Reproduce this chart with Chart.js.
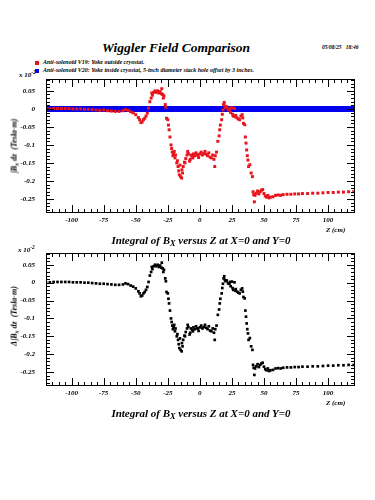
<!DOCTYPE html>
<html>
<head>
<meta charset="utf-8">
<script src="https://cdn.jsdelivr.net/npm/chart.js@4.4.1/dist/chart.umd.min.js"></script>
<style>
  body { margin: 0; background: #fff; }
  #page { position: relative; width: 375px; height: 500px; background: #fff; overflow: hidden;
          font-family: "Liberation Serif", "DejaVu Serif", serif; font-weight: bold; font-style: italic; color: #000; }
  .t { position: absolute; white-space: nowrap; line-height: 1; }
  canvas { position: absolute; left: 0; }
  .mk { position: absolute; width: 4px; height: 4px; }
  sub { font-size: 0.75em; vertical-align: -0.3em; }
  sup { font-size: 0.75em; vertical-align: 0.5em; }
  .ytitle { position: absolute; font-size: 8px; white-space: nowrap; line-height: 1;
            transform: translate(-50%, -50%) rotate(-90deg); }
</style>
</head>
<body>
<div id="page">
  <div class="t" style="left:0;width:352px;text-align:center;top:41px;font-size:13.5px;">Wiggler Field Comparison</div>
  <div class="t" style="left:322px;top:45px;font-size:5.5px;">05/08/25&nbsp;&nbsp;&nbsp;18:46</div>

  <div class="mk" style="left:35px;top:61px;background:#e8141c;"></div>
  <div class="t" style="left:43px;top:59px;font-size:6px;">Anti-solenoid V19: Yoke outside cryostat.</div>
  <div class="mk" style="left:35px;top:69px;background:#0000ee;"></div>
  <div class="t" style="left:43px;top:67px;font-size:6px;">Anti-solenoid V20: Yoke inside cryostat, 5-inch diameter stack hole offset by 3 inches.</div>

  <div class="t" style="left:19px;top:70px;font-size:7px;">x 10<sup>-2</sup></div>
  <canvas id="top" width="375" height="180" style="top:60px;"></canvas>
  <div class="ytitle" style="left:15px;top:146px;">&#8747;B<sub>x</sub> dz&nbsp;&nbsp;(Tesla-m)</div>
  <div class="t" style="left:326px;top:227px;font-size:7px;">Z (cm)</div>
  <div class="t" style="left:0;width:402px;text-align:center;top:235px;font-size:11px;">Integral of B<sub>X</sub> versus Z at X=0 and Y=0</div>

  <div class="t" style="left:18px;top:245px;font-size:7px;">x 10<sup>-2</sup></div>
  <canvas id="bottom" width="375" height="180" style="top:233px;"></canvas>
  <div class="ytitle" style="left:15px;top:316px;">&#916;&#8747;B<sub>x</sub> dz&nbsp;&nbsp;(Tesla-m)</div>
  <div class="t" style="left:326px;top:400px;font-size:7px;">Z (cm)</div>
  <div class="t" style="left:0;width:402px;text-align:center;top:408px;font-size:11px;">Integral of B<sub>X</sub> versus Z at X=0 and Y=0</div>
</div>

<script>
// z positions (cm) of the measured points
const zCm = [-120,-117,-114,-111,-108,-105,-102,-99,-96,-93,-90,-87,-84,-81,-78,-75,-72,-69,-66,-63,
  -60,-58,-56,-54,-52,-50,-48,-47,-46,-45,-44,-43,-42,-41,-40,-39,-38,-37.5,-37,-36,
  -35,-34,-33,-32,-31,-30,-29.7,-29,-28.5,-28,-27,-26.5,-26,-25,-24.5,-24,-23.3,-22.5,-22,-21.5,
  -21,-20.5,-20,-19.4,-19,-18,-17.5,-17,-16.5,-16,-15.5,-15,-14.2,-14,-13.5,-13,-12,-11.6,-11,-10,
  -9.5,-9,-8,-7.5,-7,-6,-5.4,-5,-4,-3,-2,-1.5,-1,0,1,2,3,4,5,6,
  7,8,9,10,11,11.6,12,13,14,15,15.5,16,17,17.5,18,18.5,19,19.5,20,21,
  22,23,23.5,24,25,25.5,26,27,27.5,28,29,30,31,32,33,33.5,34,35,35.5,36,
  36.5,37,37.5,38,39,40,41,41.5,42,42.5,43,44,45,46,47,48,49,50,51,52,
  53,54,55,57,59,61,63,65,68,71,74,77,80,84,88,92,96,100,104,108,
  112,116,120];

// V19 integral (x 10^-2 Tesla-m)
const bxV19 = [0.000,0.000,0.001,0.001,0.001,0.001,0.001,0.000,0.000,0.000,-0.001,-0.001,-0.002,-0.003,-0.004,-0.003,-0.005,-0.006,-0.007,-0.007,
  -0.005,-0.002,-0.004,-0.008,-0.011,-0.016,-0.024,-0.030,-0.038,-0.036,-0.030,-0.026,-0.020,-0.012,0.002,0.020,0.030,0.044,0.038,0.046,
  0.050,0.046,0.050,0.044,0.048,0.042,0.056,0.040,0.030,0.036,0.012,0.004,-0.026,-0.030,-0.045,-0.058,-0.078,-0.100,-0.110,-0.120,
  -0.130,-0.124,-0.118,-0.136,-0.128,-0.150,-0.144,-0.160,-0.172,-0.183,-0.156,-0.188,-0.192,-0.169,-0.178,-0.160,-0.148,-0.150,-0.138,-0.128,
  -0.118,-0.124,-0.145,-0.140,-0.128,-0.132,-0.136,-0.125,-0.130,-0.122,-0.128,-0.128,-0.135,-0.125,-0.120,-0.128,-0.124,-0.118,-0.126,-0.130,
  -0.122,-0.134,-0.136,-0.128,-0.140,-0.160,-0.130,-0.120,-0.090,-0.075,-0.058,-0.045,-0.030,-0.015,-0.003,0.012,0.018,0.008,0.004,0.006,
  -0.002,-0.003,0.002,-0.010,0.003,-0.015,-0.020,0.001,-0.022,-0.018,-0.025,-0.028,-0.030,-0.020,-0.016,-0.025,-0.040,-0.044,-0.078,-0.095,
  -0.114,-0.130,-0.142,-0.160,-0.155,-0.178,-0.188,-0.230,-0.238,-0.258,-0.240,-0.234,-0.228,-0.236,-0.230,-0.226,-0.224,-0.235,-0.242,-0.245,
  -0.240,-0.247,-0.245,-0.244,-0.240,-0.239,-0.240,-0.238,-0.237,-0.237,-0.236,-0.236,-0.235,-0.235,-0.234,-0.234,-0.233,-0.232,-0.232,-0.231,
  -0.231,-0.230,-0.230];

// V20 integral: flat at zero over the whole range
const zV20 = [-120, -90, -60, -30, 0, 30, 60, 90, 121];
const bxV20 = [0, 0, 0, 0, 0, 0, 0, 0, 0];

// lower panel: difference V19 - V20
const dBx = [0.001,0.001,0.002,0.002,0.002,0.002,0.002,0.001,0.001,0.001,0.000,0.000,-0.001,-0.002,-0.003,-0.003,-0.004,-0.005,-0.006,-0.006,
  -0.005,-0.002,-0.004,-0.008,-0.011,-0.016,-0.024,-0.030,-0.038,-0.036,-0.030,-0.026,-0.020,-0.012,0.002,0.020,0.030,0.044,0.038,0.046,
  0.050,0.046,0.050,0.044,0.048,0.042,0.056,0.040,0.030,0.036,0.012,0.004,-0.026,-0.030,-0.045,-0.058,-0.078,-0.100,-0.110,-0.120,
  -0.130,-0.124,-0.118,-0.136,-0.128,-0.150,-0.144,-0.160,-0.172,-0.183,-0.156,-0.188,-0.192,-0.169,-0.178,-0.160,-0.148,-0.150,-0.138,-0.128,
  -0.118,-0.124,-0.145,-0.140,-0.128,-0.132,-0.136,-0.125,-0.130,-0.122,-0.128,-0.128,-0.135,-0.125,-0.120,-0.128,-0.124,-0.118,-0.126,-0.130,
  -0.122,-0.134,-0.136,-0.128,-0.140,-0.160,-0.130,-0.120,-0.090,-0.075,-0.058,-0.045,-0.030,-0.015,-0.003,0.012,0.018,0.008,0.004,0.006,
  -0.002,-0.003,0.002,-0.010,0.003,-0.015,-0.020,0.001,-0.022,-0.018,-0.025,-0.028,-0.030,-0.020,-0.016,-0.025,-0.040,-0.044,-0.078,-0.095,
  -0.114,-0.130,-0.142,-0.160,-0.155,-0.178,-0.188,-0.230,-0.238,-0.258,-0.240,-0.234,-0.228,-0.236,-0.230,-0.226,-0.224,-0.235,-0.242,-0.245,
  -0.240,-0.247,-0.245,-0.244,-0.240,-0.239,-0.240,-0.238,-0.237,-0.237,-0.236,-0.236,-0.235,-0.235,-0.234,-0.234,-0.233,-0.232,-0.232,-0.231,
  -0.231,-0.230,-0.230];

const xTickValues = [-100, -75, -50, -25, 0, 25, 50, 75, 100];
const yTickValues = [0.05, 0, -0.05, -0.1, -0.15, -0.2, -0.25];

const tickFont = { family: "'Liberation Serif', serif", size: 7, weight: "bold", style: "italic" };

const pts = (xs, ys) => xs.map((x, i) => ({ x: x, y: ys[i] }));

// ROOT-style frame with inward ticks on all four sides
const frameTicks = {
  id: "frameTicks",
  afterDraw(chart) {
    const { ctx, chartArea: a, scales: { x, y } } = chart;
    ctx.save();
    ctx.strokeStyle = "#000";
    ctx.lineWidth = 1;
    ctx.strokeRect(a.left + 0.5, a.top + 0.5, a.right - a.left - 1, a.bottom - a.top - 1);
    ctx.beginPath();
    for (let i = -24; i <= 24; i++) {
      const px = Math.round(x.getPixelForValue(i * 5)) + 0.5;
      if (px < a.left || px > a.right) continue;
      const len = i % 5 === 0 ? 8 : 4;
      ctx.moveTo(px, a.bottom); ctx.lineTo(px, a.bottom - len);
      ctx.moveTo(px, a.top); ctx.lineTo(px, a.top + len);
    }
    for (let i = -29; i <= 8; i++) {
      const py = Math.round(y.getPixelForValue(i / 100)) + 0.5;
      if (py < a.top || py > a.bottom) continue;
      const len = i % 5 === 0 ? 8 : 4;
      ctx.moveTo(a.left, py); ctx.lineTo(a.left + len, py);
      ctx.moveTo(a.right, py); ctx.lineTo(a.right - len, py);
    }
    ctx.stroke();
    ctx.restore();
  }
};

function makeChart(id, datasets, topPad) {
  return new Chart(document.getElementById(id), {
    type: "scatter",
    data: { datasets: datasets },
    options: {
      responsive: false,
      animation: false,
      layout: { padding: { left: 0, right: 20, top: topPad, bottom: 0 } },
      plugins: { legend: { display: false }, tooltip: { enabled: false } },
      scales: {
        x: {
          type: "linear", min: -120, max: 121,
          grid: { display: false, drawTicks: false },
          border: { display: false },
          afterBuildTicks: (s) => { s.ticks = xTickValues.map(v => ({ value: v })); },
          afterFit: (s) => { s.height = 27; },
          ticks: { font: tickFont, color: "#000", padding: 3, maxRotation: 0, callback: (v) => String(v) }
        },
        y: {
          type: "linear", min: -0.289, max: 0.083,
          grid: { display: false, drawTicks: false },
          border: { display: false },
          afterBuildTicks: (s) => { s.ticks = yTickValues.map(v => ({ value: v })); },
          afterFit: (s) => { s.width = 46; },
          ticks: { font: tickFont, color: "#000", padding: 11, callback: (v) => String(v) }
        }
      }
    },
    plugins: [frameTicks]
  });
}

makeChart("top", [
  {
    label: "Anti-solenoid V19: Yoke outside cryostat.",
    data: pts(zCm, bxV19),
    pointStyle: "rect", pointRadius: 2.1, pointBorderWidth: 0,
    backgroundColor: "#e8141c", borderColor: "#e8141c",
    order: 0
  },
  {
    label: "Anti-solenoid V20: Yoke inside cryostat, 5-inch diameter stack hole offset by 3 inches.",
    data: pts(zV20, bxV20),
    showLine: true, pointRadius: 0, borderWidth: 6,
    borderColor: "#0000ee", backgroundColor: "#0000ee",
    order: 1
  }
], 19);

makeChart("bottom", [
  {
    label: "V19 - V20",
    data: pts(zCm, dBx),
    pointStyle: "rect", pointRadius: 1.9, pointBorderWidth: 0,
    backgroundColor: "#000", borderColor: "#000"
  }
], 20);
</script>
</body>
</html>
